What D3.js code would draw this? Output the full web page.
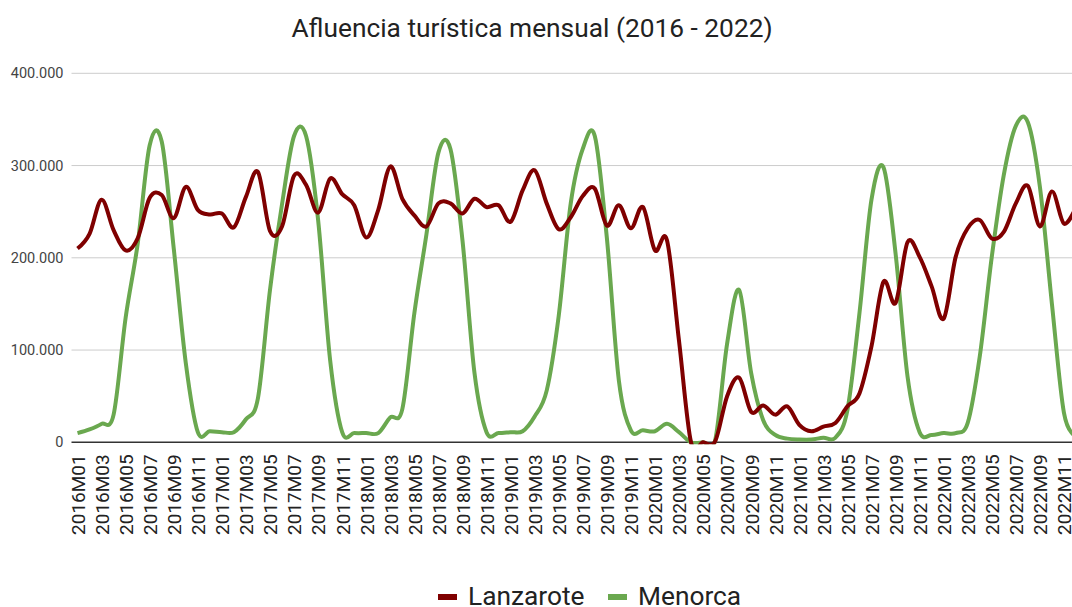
<!DOCTYPE html>
<html>
<head>
<meta charset="utf-8">
<script src="https://cdn.jsdelivr.net/npm/d3@7"></script>
<style>
  body { margin: 0; background: #fff; }
  text { font-family: Roboto, "Noto Sans", sans-serif; }
</style>
</head>
<body>
<div id="chart"></div>
<script>
// Afluencia turistica mensual

const FRAME_WIDTH = 1072;
const FRAME_HEIGHT = 607;
const PLOT = {left: 71.5, right: 1082, top: 73.3, bottom: 442.3};

const years = [2016, 2017, 2018, 2019, 2020, 2021, 2022];
const monthCodes = ["M01", "M02", "M03", "M04", "M05", "M06", "M07", "M08", "M09", "M10", "M11", "M12"];

// categories: 2016M01 ... 2022M12
const months = [];
years.forEach(y => monthCodes.forEach(m => months.push(y + m)));

// visitors per month
const lanzarote = [
  210000, 226000, 263000, 230000, 208000, 221000, 265000, 268000, 243000, 277000, 252000, 247000,
  248000, 233000, 266000, 293000, 229000, 234000, 289000, 279000, 249000, 286000, 269000, 257000,
  222000, 252000, 299000, 264000, 246000, 234000, 259000, 259000, 248000, 264000, 255000, 257000,
  239000, 273000, 295000, 259000, 231000, 244000, 267000, 275000, 235000, 257000, 232000, 255000,
  208000, 219000, 110000, 0, 0, 1000, 50000, 70000, 33000, 40000, 30000, 39000,
  19000, 12000, 17000, 21000, 39000, 53000, 104000, 174000, 151000, 217000, 201000, 169000,
  134000, 201000, 232000, 241000, 221000, 228000, 259000, 278000, 234000, 272000, 237000, 255000
];

const menorca = [
  10000, 14000, 20000, 30000, 135000, 215000, 322000, 326000, 210000, 86000, 11000, 12000,
  11000, 11000, 25000, 48000, 165000, 258000, 332000, 332000, 241000, 89000, 11000, 10000,
  10000, 10000, 27000, 36000, 140000, 225000, 314000, 318000, 219000, 75000, 11000, 10000,
  11000, 12000, 28000, 56000, 137000, 259000, 318000, 332000, 222000, 67000, 13000, 13000,
  12000, 20000, 11000, 0, 0, 2000, 107000, 165000, 75000, 24000, 8000, 4000,
  3000, 3000, 5000, 5000, 35000, 140000, 263000, 298000, 205000, 71000, 11000, 8000,
  10000, 10000, 21000, 93000, 201000, 290000, 343000, 347000, 277000, 150000, 32000, 7000
];

const yTicks = [0, 100000, 200000, 300000, 400000];

const seriesNames = ["Lanzarote", "Menorca"];
const seriesColors = ["#7f0000", "#6aa84f"];

const locale = d3.formatLocale({decimal: ",", thousands: ".", grouping: [3], currency: ["", " €"]});
const fmt = locale.format(",d");

const svg = d3.select("#chart")
  .append("svg")
    .attr("width", FRAME_WIDTH)
    .attr("height", FRAME_HEIGHT);

const x = d3.scalePoint()
  .domain(months)
  .range([PLOT.left, PLOT.right])
  .padding(0.5);

const y = d3.scaleLinear()
  .domain([0, 400000])
  .range([PLOT.bottom, PLOT.top]);

// title
svg.append("text")
  .attr("x", 532)
  .attr("y", 37)
  .attr("text-anchor", "middle")
  .attr("font-size", 26.3)
  .attr("fill", "#222")
  .text("Afluencia turística mensual (2016 - 2022)");

// gridlines
svg.append("g")
  .selectAll("line")
  .data(yTicks.filter(d => d > 0))
  .enter()
  .append("line")
    .attr("x1", PLOT.left)
    .attr("x2", FRAME_WIDTH)
    .attr("y1", d => y(d))
    .attr("y2", d => y(d))
    .attr("stroke", "#cccccc")
    .attr("stroke-width", 1);

// y axis labels
const yAxis = d3.axisLeft(y)
  .tickValues(yTicks)
  .tickFormat(fmt)
  .tickSize(0)
  .tickPadding(8);

svg.append("g")
  .attr("transform", "translate(" + PLOT.left + ",0)")
  .call(yAxis)
  .call(g => g.select(".domain").remove())
  .call(g => g.selectAll("text")
    .attr("font-family", "Roboto, sans-serif")
    .attr("font-size", 14.5)
    .attr("fill", "#444"));

// x axis labels (every other month)
const xAxis = d3.axisBottom(x)
  .tickValues(months.filter((d, i) => i % 2 === 0))
  .tickSize(0)
  .tickPadding(0);

svg.append("g")
  .attr("transform", "translate(0," + PLOT.bottom + ")")
  .call(xAxis)
  .call(g => g.select(".domain").remove())
  .call(g => g.selectAll("text")
    .attr("font-family", "Roboto, sans-serif")
    .attr("font-size", 19)
    .attr("fill", "#222")
    .attr("text-anchor", "end")
    .attr("transform", "translate(0,12) rotate(-90)")
    .attr("x", 0)
    .attr("y", 0)
    .attr("dy", "0.36em"));

// baseline
svg.append("line")
  .attr("x1", PLOT.left)
  .attr("x2", FRAME_WIDTH)
  .attr("y1", y(0))
  .attr("y2", y(0))
  .attr("stroke", "#333")
  .attr("stroke-width", 1.5);

svg.append("defs")
  .append("clipPath")
    .attr("id", "plot-clip")
  .append("rect")
    .attr("x", PLOT.left)
    .attr("y", 0)
    .attr("width", PLOT.right - PLOT.left)
    .attr("height", PLOT.bottom + 2);

const line = d3.line()
  .x((d, i) => x(months[i]))
  .y(d => y(d))
  .curve(d3.curveCatmullRom.alpha(0));

const lines = svg.append("g").attr("clip-path", "url(#plot-clip)");

lines.append("path")
  .datum(menorca)
  .attr("fill", "none")
  .attr("stroke", seriesColors[1])
  .attr("stroke-width", 4)
  .attr("stroke-linejoin", "round")
  .attr("d", line);

lines.append("path")
  .datum(lanzarote)
  .attr("fill", "none")
  .attr("stroke", seriesColors[0])
  .attr("stroke-width", 4)
  .attr("stroke-linejoin", "round")
  .attr("d", line);

// legend
const legendPos = [438, 608];
const legend = svg.append("g");

seriesNames.forEach((name, i) => {
  legend.append("rect")
    .attr("x", legendPos[i])
    .attr("y", 594)
    .attr("width", 19)
    .attr("height", 6)
    .attr("fill", seriesColors[i]);
  legend.append("text")
    .attr("x", legendPos[i] + 30)
    .attr("y", 604.5)
    .attr("font-size", 26.3)
    .attr("fill", "#222")
    .text(name);
});
</script>
</body>
</html>
